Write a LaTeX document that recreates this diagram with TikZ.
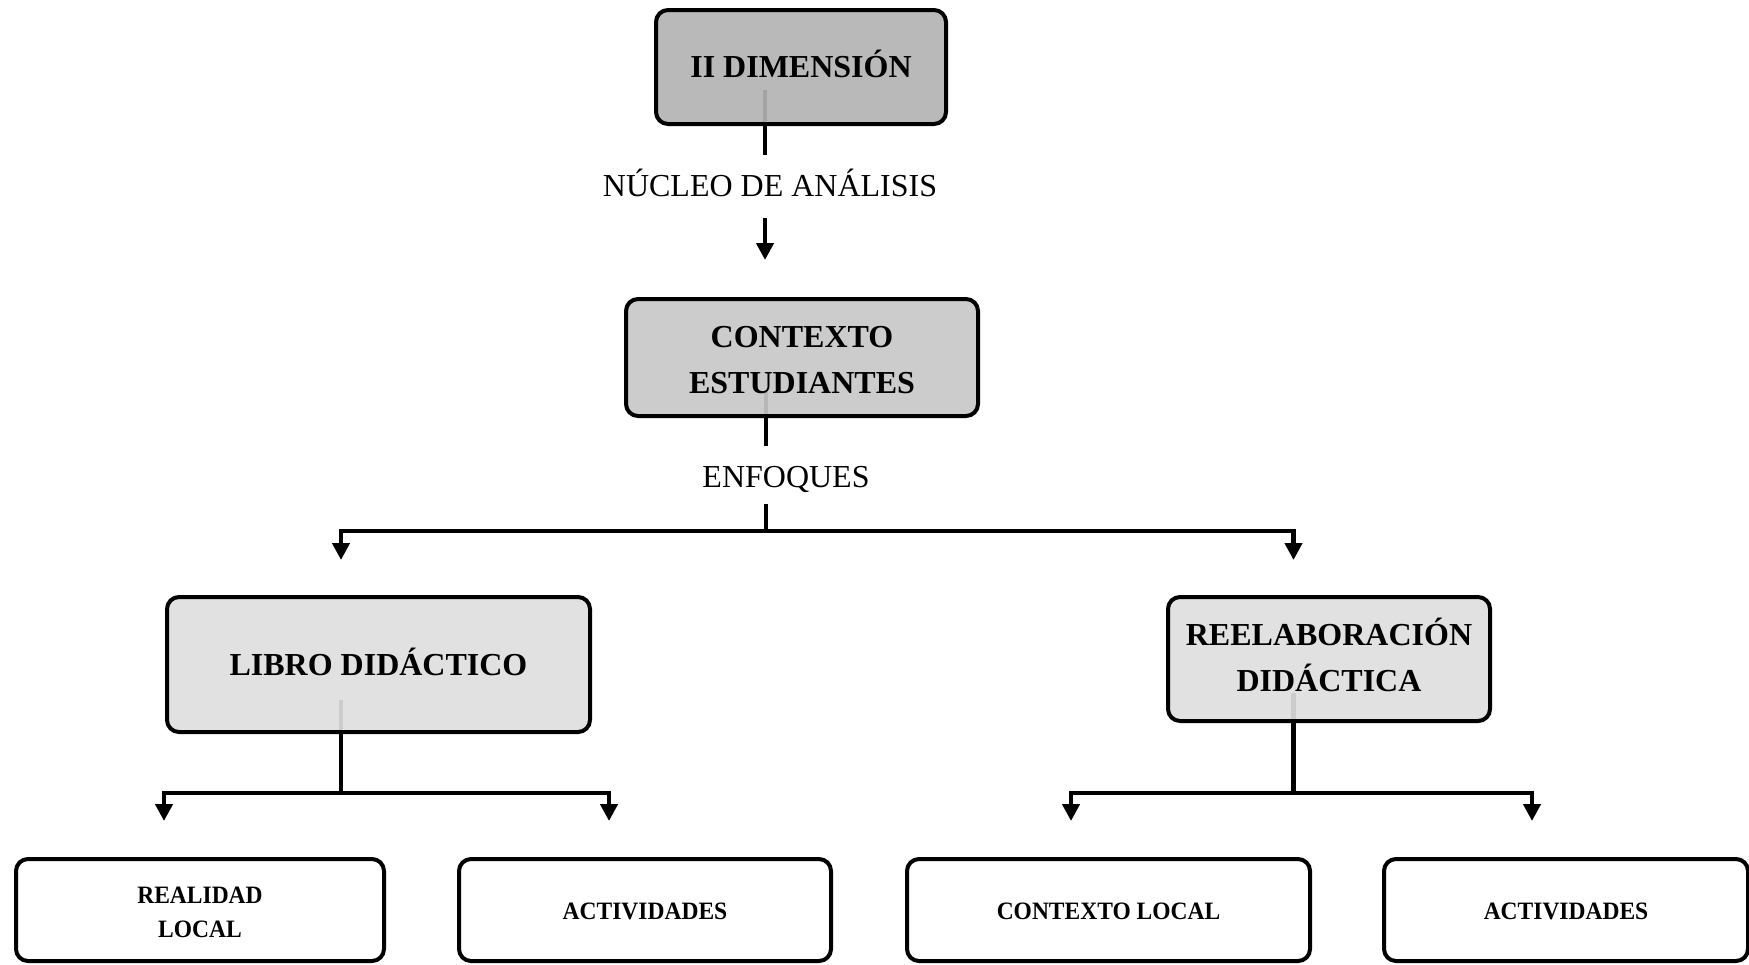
\documentclass[tikz,border=0pt]{standalone}
\usepackage{fontspec}
\setmainfont{Liberation Serif}
\newfontfamily\condserif[FakeStretch=0.94]{Liberation Serif}
\usetikzlibrary{arrows.meta,backgrounds}

% fills (seen through a slightly transparent box, so the stubs behind show)
\definecolor{fillA}{gray}{0.702}
\definecolor{fillB}{gray}{0.784}
\definecolor{fillC}{gray}{0.871}

\newcommand\hdrfont{\fontsize{16}{23}\selectfont\bfseries}
\newcommand\lblfont{\fontsize{16}{23}\selectfont}
\newcommand\leaffont{\condserif\fontsize{12.5}{17}\selectfont\bfseries}

\begin{document}
\begin{tikzpicture}[x=0.5pt,y=-0.5pt,
  box/.style={draw=black, line width=2pt, rounded corners=6pt, inner sep=0pt,
              align=center, fill opacity=0.92, text opacity=1},
  hdr/.style={box, font=\hdrfont},
  leaf/.style={box, fill=white, font=\leaffont, minimum height=51pt},
  lbl/.style={inner sep=0pt, font=\lblfont, anchor=base},
  conn/.style={draw=black, line width=2.2pt, line join=miter},
  arr/.style={-{Triangle[width=8.5pt,length=8.5pt]}}
]
\useasboundingbox (0,0) rectangle (1749,964);

% ---- boxes ----
\node[hdr, fill=fillA, minimum width=145pt, minimum height=57pt,
      text height=10pt, text depth=0pt] (dim) at (801,67) {II DIMENSIÓN};
\node[hdr, fill=fillB, minimum width=176pt, minimum height=58.5pt,
      text depth=3.6pt] (ctx) at (802,357.5) {CONTEXTO\strut\\ESTUDIANTES\strut};
\node[hdr, fill=fillC, minimum width=211.5pt, minimum height=67.5pt,
      text height=10.5pt, text depth=0pt] (libro) at (378.5,664.5) {LIBRO DIDÁCTICO};
\node[hdr, fill=fillC, minimum width=161pt, minimum height=62pt]
      (reel) at (1329,659) {REELABORACIÓN\strut\\DIDÁCTICA\strut};

\node[leaf, minimum width=184pt, text depth=1.8pt] (b1) at (200,910) {REALIDAD\strut\\LOCAL\strut};
\node[leaf, minimum width=186pt, text height=9pt, text depth=0pt] (b2) at (645,910) {ACTIVIDADES};
\node[leaf, minimum width=201.5pt, text height=9pt, text depth=0pt] (b3) at (1108.5,910) {CONTEXTO LOCAL};
\node[leaf, minimum width=182pt, text height=9pt, text depth=0pt] (b4) at (1566,910) {ACTIVIDADES};

% ---- connector labels ----
\node[lbl, text height=20.5pt, text depth=11pt] (nuc) at (770,196) {NÚCLEO DE ANÁLISIS};
\node[lbl, text height=20.5pt, text depth=8.5pt] (enf) at (786,487) {ENFOQUES};

% ---- junction points ----
\coordinate (dimstub) at (765,90);
\coordinate (ctxstub) at (766,392);
\coordinate (librostub) at (341,700);
\coordinate (reelstub) at (1293.5,693);
\coordinate (hubtop) at (766,531);
\coordinate (hubleft) at (341,793);
\coordinate (hubright) at (1293.5,793);

% ---- connectors (behind the boxes) ----
\begin{pgfonlayer}{background}
  \draw[conn] (dimstub) -- (dimstub |- nuc.north);
  \draw[conn,arr,shorten >=18.5pt] (dimstub |- nuc.south) -- (dimstub |- ctx.north);

  \draw[conn] (ctxstub) -- (ctxstub |- enf.north);
  \draw[conn] (ctxstub |- enf.south) -- (hubtop);
  \draw[conn,arr,shorten >=17.5pt] (hubtop) -| (librostub |- libro.north);
  \draw[conn,arr,shorten >=17.5pt] (hubtop) -| (reelstub |- reel.north);

  \draw[conn] (librostub) -- (hubleft);
  \draw[conn,arr,shorten >=18pt] (hubleft) -| ([xshift=-18pt]b1.north);
  \draw[conn,arr,shorten >=18pt] (hubleft) -| ([xshift=-18pt]b2.north);

  \draw[conn] (reelstub) -- (hubright);
  \draw[conn,arr,shorten >=18pt] (hubright) -| ([xshift=-18.75pt]b3.north);
  \draw[conn,arr,shorten >=18pt] (hubright) -| ([xshift=-17pt]b4.north);
\end{pgfonlayer}
\end{tikzpicture}
\end{document}
